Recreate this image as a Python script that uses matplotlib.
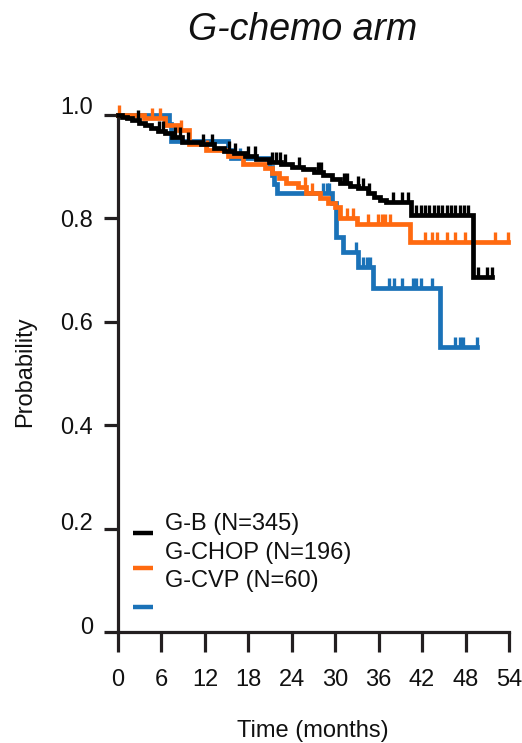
import numpy as np
import matplotlib
matplotlib.use("Agg")
import matplotlib.pyplot as plt
import matplotlib.transforms as mtransforms

plt.rcParams['font.family'] = ['Liberation Sans', 'DejaVu Sans']

# Kaplan-Meier step points: time of each step (months) and survival after it
gb_times = [0, 0.5, 1.2, 2.0, 2.9, 3.7, 4.6, 5.5, 6.5, 7.5, 8.8, 11.5, 13.2, 14.6,
            16.0, 17.5, 19.0, 20.8, 22.5, 24.0, 25.5, 27.0, 28.3, 29.5, 30.7,
            32.0, 33.2, 34.5, 35.3, 36.2, 37.0, 40.5, 49.0]
gb_surv = [1.0, 0.997, 0.994, 0.990, 0.985, 0.980, 0.975, 0.970, 0.965, 0.957,
           0.948, 0.943, 0.937, 0.930, 0.926, 0.920, 0.915, 0.910, 0.905, 0.900,
           0.895, 0.889, 0.884, 0.876, 0.869, 0.863, 0.858, 0.850, 0.842, 0.836,
           0.831, 0.806, 0.687]
gb_end = 51.7
gb_censor = [2.8, 5.6, 6.2, 7.9, 8.6, 9.6, 11.8, 13.0, 15.3, 16.1, 18.0, 18.9,
             21.2, 21.8, 22.4, 23.0, 25.0, 27.6, 28.0, 31.2, 31.6, 33.1, 33.8,
             34.6, 38.0, 39.2, 40.0, 41.2, 41.8, 42.4, 43.0, 43.6, 44.2, 44.8,
             45.4, 46.0, 46.6, 47.2, 47.8, 48.4, 49.7, 51.0, 51.7]

gchop_times = [0, 3.6, 6.5, 8.4, 9.8, 12.2, 15.2, 17.2, 20.3, 21.2, 22.2, 23.2,
               24.8, 26.0, 27.9, 29.0, 30.0, 30.7, 33.0, 40.3]
gchop_surv = [1.0, 0.994, 0.981, 0.971, 0.943, 0.932, 0.920, 0.905, 0.897, 0.888,
              0.878, 0.868, 0.860, 0.849, 0.840, 0.830, 0.822, 0.800, 0.790, 0.754]
gchop_end = 53.9
gchop_censor = [0.2, 4.7, 5.8, 8.7, 12.3, 25.8, 26.8, 31.6, 32.5, 34.5, 35.9,
                36.4, 36.9, 37.6, 42.4, 43.4, 44.1, 45.4, 46.5, 47.9, 52.1, 53.9]

gcvp_times = [0, 7.0, 7.3, 15.2, 15.6, 20.8, 21.2, 21.6, 22.0, 29.6, 30.1, 31.1,
              33.2, 35.2, 44.5]
gcvp_surv = [1.0, 0.983, 0.950, 0.933, 0.917, 0.900, 0.883, 0.867, 0.850, 0.830,
             0.764, 0.735, 0.706, 0.665, 0.551]
gcvp_end = 49.6
gcvp_censor = [16.8, 28.3, 28.8, 29.2, 32.9, 33.9, 34.4, 34.8, 37.4, 38.1, 39.2,
               40.7, 41.1, 41.8, 43.4, 46.6, 47.2, 47.7, 49.6]

arm_labels = ["G-B (N=345)", "G-CHOP (N=196)", "G-CVP (N=60)"]
arm_colors = ["#000000", "#ff6a10", "#1a72b8"]

x_ticks = [0, 6, 12, 18, 24, 30, 36, 42, 48, 54]
y_ticks = [0, 0.2, 0.4, 0.6, 0.8, 1.0]
y_ticklabels = ["0", "0.2", "0.4", "0.6", "0.8", "1.0"]
# vertical nudge of each y tick label, in points
y_label_lift = [5, 5, 0, 0, 0, 6.5]

W, H = 522, 743
fig = plt.figure(figsize=(W / 100, H / 100), dpi=100)
ax = fig.add_axes([118 / W, 1 - 632 / H, 391 / W, 517 / H])

axis_color = "#231f20"
text_color = "#111111"


def km_curve(ax, times, surv, end, censor, color, z):
    t = np.array(times + [end])
    s = np.array(surv + [surv[-1]])
    ax.step(t, s, where='post', color=color, lw=3.4, zorder=z,
            solid_joinstyle='miter', clip_on=False)
    idx = np.searchsorted(np.array(times), np.array(censor), side='right') - 1
    cy = np.array(surv)[idx]
    ax.plot(censor, cy, linestyle='none', marker=2, markersize=7,
            markeredgewidth=2.4, color=color, zorder=z, clip_on=False)


km_curve(ax, gcvp_times, gcvp_surv, gcvp_end, gcvp_censor, arm_colors[2], 3)
km_curve(ax, gchop_times, gchop_surv, gchop_end, gchop_censor, arm_colors[1], 4)
km_curve(ax, gb_times, gb_surv, gb_end, gb_censor, arm_colors[0], 5)

ax.set_xlim(0, 54)
ax.set_ylim(0, 1.0)
ax.set_xticks(x_ticks)
ax.set_xticklabels([str(v) for v in x_ticks])
ax.set_yticks(y_ticks)
ax.set_yticklabels(y_ticklabels)

for side in ['top', 'right']:
    ax.spines[side].set_visible(False)
for side in ['left', 'bottom']:
    ax.spines[side].set_linewidth(2.3)
    ax.spines[side].set_color(axis_color)
    ax.spines[side].set_capstyle('projecting')

ax.tick_params(axis='x', direction='out', length=14.5, width=2.3,
               color=axis_color, labelsize=17, pad=12, labelcolor=text_color)
ax.tick_params(axis='y', direction='out', length=10, width=2.3,
               color=axis_color, labelsize=17, pad=8, labelcolor=text_color)

for lbl, dy in zip(ax.get_yticklabels(), y_label_lift):
    shift = mtransforms.ScaledTranslation(0, dy / 72, fig.dpi_scale_trans)
    lbl.set_transform(lbl.get_transform() + shift)

# Legend: labels stacked on the right, colour swatches on the left
text_y = [0.209, 0.153, 0.0986]
swatch_y = [0.191, 0.123, 0.048]
for lab, col, ty, sy in zip(arm_labels, arm_colors, text_y, swatch_y):
    ax.text(0.120, ty, lab, transform=ax.transAxes, fontsize=17,
            ha='left', va='center', color=text_color)
    ax.plot([0.038, 0.0895], [sy, sy], transform=ax.transAxes, color=col,
            lw=3.2, solid_capstyle='butt', clip_on=False)

fig.text(303 / W, 1 - 40 / H, "G-chemo arm", fontsize=27, style='italic',
         ha='center', va='baseline', color=text_color)
fig.text(313 / W, 1 - 737 / H, "Time (months)", fontsize=17, ha='center',
         va='baseline', color=text_color)
fig.text(25 / W, 1 - 372 / H, "Probability", fontsize=17, rotation=90,
         ha='center', va='center', color=text_color)

fig.savefig("out.png", dpi=100)
